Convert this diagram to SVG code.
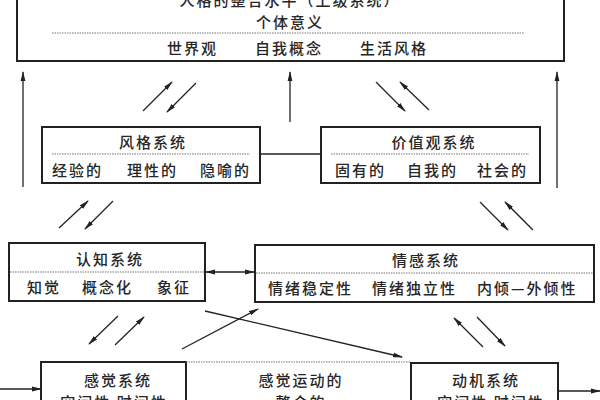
<svg xmlns="http://www.w3.org/2000/svg" width="600" height="400" viewBox="0 0 600 400">
<defs>
<marker id="ah" markerUnits="userSpaceOnUse" markerWidth="10" markerHeight="6" refX="9" refY="3" orient="auto">
<path d="M0,0.6 L10,3 L0,5.4 z" fill="#222"/>
</marker>
<marker id="ahs" markerUnits="userSpaceOnUse" markerWidth="10" markerHeight="6" refX="1" refY="3" orient="auto">
<path d="M10,0.6 L0,3 L10,5.4 z" fill="#222"/>
</marker>
<style>
.box{fill:#fff;stroke:#222;stroke-width:2}
.dot{stroke:#777;stroke-width:1.2;stroke-dasharray:1.5 1;fill:none}
.t{font-family:"Noto Sans CJK SC","Noto Sans CJK TC",sans-serif;font-size:15px;font-weight:500;letter-spacing:2px;fill:#262626}
.c{text-anchor:middle}
.ln{stroke:#222;stroke-width:1.6;fill:none}
.ar{stroke:#222;stroke-width:1.3;fill:none;marker-end:url(#ah)}
</style>
</defs>
<rect width="600" height="400" fill="#fff"/>

<g id="top">
<rect class="box" x="17" y="-20" width="547" height="81"/>
<text class="t c" x="290" y="6">人格的整合水平（上级系统）</text>
<text class="t c" x="290" y="28">个体意义</text>
<line class="dot" x1="52" y1="33" x2="524" y2="33"/>
<text class="t" x="167" y="54">世界观</text>
<text class="t" x="255" y="54">自我概念</text>
<text class="t" x="360" y="54">生活风格</text>
</g>

<g id="style">
<rect class="box" x="42" y="127" width="218" height="56"/>
<text class="t c" x="153" y="148">风格系统</text>
<line class="dot" x1="52" y1="154" x2="250" y2="154"/>
<text class="t" x="52" y="176">经验的</text>
<text class="t" x="127" y="176">理性的</text>
<text class="t" x="200" y="176">隐喻的</text>
</g>

<g id="values">
<rect class="box" x="321" y="127" width="219" height="56"/>
<text class="t c" x="434" y="148">价值观系统</text>
<line class="dot" x1="331" y1="154" x2="529" y2="154"/>
<text class="t" x="335" y="176">固有的</text>
<text class="t" x="407" y="176">自我的</text>
<text class="t" x="477" y="176">社会的</text>
</g>

<g id="cognitive">
<rect class="box" x="9" y="243" width="196" height="58"/>
<text class="t c" x="110" y="265">认知系统</text>
<line class="dot" x1="10" y1="272" x2="204" y2="272"/>
<text class="t" x="27" y="293">知觉</text>
<text class="t" x="82" y="293">概念化</text>
<text class="t" x="157" y="293">象征</text>
</g>

<g id="affective">
<rect class="box" x="255" y="245" width="339" height="57"/>
<text class="t c" x="426" y="266">情感系统</text>
<line class="dot" x1="256" y1="273" x2="593" y2="273"/>
<text class="t" x="268" y="294">情绪稳定性</text>
<text class="t" x="372" y="294">情绪独立性</text>
<text class="t" x="477" y="294">内倾—外倾性</text>
</g>

<g id="sensory">
<rect class="box" x="41" y="362" width="145" height="60"/>
<text class="t c" x="118" y="386">感觉系统</text>
<text class="t c" x="114" y="408">空间性 时间性</text>
</g>

<g id="integration">
<line class="dot" x1="186" y1="362" x2="411" y2="362"/>
<text class="t c" x="301" y="386">感觉运动的</text>
<text class="t c" x="301" y="408">整合的</text>
</g>

<g id="motor">
<rect class="box" x="411" y="363" width="147" height="60"/>
<text class="t c" x="486" y="386">动机系统</text>
<text class="t c" x="491" y="408">空间性 时间性</text>
</g>

<g id="connectors">
<line class="ar" x1="23" y1="187" x2="23" y2="72"/>
<line class="ar" x1="290" y1="122" x2="290" y2="72"/>
<line class="ar" x1="557" y1="188" x2="557" y2="72"/>
<line class="ar" x1="143" y1="111" x2="172" y2="82"/>
<line class="ar" x1="196" y1="83" x2="167" y2="112"/>
<line class="ar" x1="376" y1="82" x2="405" y2="111"/>
<line class="ar" x1="429" y1="110" x2="400" y2="82"/>
<line class="ln" x1="260" y1="154" x2="321" y2="154"/>
<line class="ar" x1="59" y1="228" x2="88" y2="201"/>
<line class="ar" x1="113" y1="201" x2="85" y2="229"/>
<line class="ar" x1="480" y1="202" x2="508" y2="230"/>
<line class="ar" x1="533" y1="230" x2="505" y2="202"/>
<line class="ar" x1="206" y1="272" x2="254" y2="272" style="marker-start:url(#ahs)"/>
<line class="ar" x1="118" y1="316" x2="89" y2="344"/>
<line class="ar" x1="115" y1="345" x2="144" y2="317"/>
<line class="ar" x1="182" y1="349" x2="258" y2="309"/>
<line class="ar" x1="205" y1="311" x2="402" y2="357"/>
<line class="ar" x1="483" y1="347" x2="454" y2="318"/>
<line class="ar" x1="477" y1="317" x2="505" y2="346"/>
<line class="ar" x1="0" y1="389" x2="41" y2="389"/>
<line class="ar" x1="558" y1="391" x2="600" y2="391"/>
</g>
</svg>
